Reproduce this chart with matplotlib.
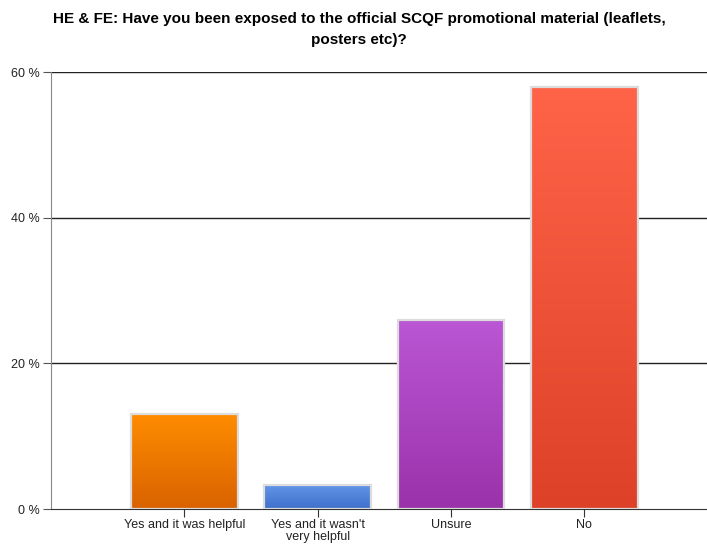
import numpy as np
import matplotlib.pyplot as plt
from matplotlib.colors import LinearSegmentedColormap

plt.rcParams['font.family'] = ['Liberation Sans', 'DejaVu Sans']

# Datos
categorias = ["Yes and it was helpful", "Yes and it wasn't\nvery helpful", "Unsure", "No"]
valores = [13, 3.3, 26, 58]
colores_arriba = ["#ff8c00", "#6396e8", "#bb56d4", "#ff6449"]
colores_abajo = ["#d96200", "#3f70cb", "#9a32aa", "#dd4228"]
titulo = "HE & FE: Have you been exposed to the official SCQF promotional material (leaflets,\nposters etc)?"

fig = plt.figure(figsize=(7.07, 5.44), dpi=100)
ax = fig.add_axes([0.0721, 0.0643, 0.9279, 0.8033])

x = np.arange(len(categorias))
barras = ax.bar(x, valores, width=0.8, color="none", edgecolor="#dcdcdc", linewidth=1.6, zorder=3)

# Relleno en degradado para cada barra
grad = np.linspace(0, 1, 256).reshape(-1, 1)
for b, c1, c2 in zip(barras, colores_arriba, colores_abajo):
    cmap = LinearSegmentedColormap.from_list("g", [c2, c1])
    x0, y0 = b.get_x(), b.get_y()
    w, h = b.get_width(), b.get_height()
    im = ax.imshow(grad, cmap=cmap, origin="lower", aspect="auto",
                   extent=[x0, x0 + w, y0, y0 + h], zorder=2)
    im.set_clip_path(b)

ax.set_xlim(-1, 3.92)
ax.set_ylim(0, 60)
ax.set_yticks([0, 20, 40, 60])
ax.set_yticklabels(["0 %", "20 %", "40 %", "60 %"])
ax.set_xticks(x)
ax.set_xticklabels(categorias)

for y in [20, 40, 60]:
    ax.axhline(y, color="#222222", linewidth=1.0, zorder=1)

for s in ["top", "right"]:
    ax.spines[s].set_visible(False)
ax.spines["left"].set_color("#888888")
ax.spines["bottom"].set_color("#333333")

ax.tick_params(axis="y", length=6, color="#555555", labelsize=9, labelcolor="#222222", pad=2)
ax.tick_params(axis="x", length=6, color="#333333", labelsize=9, labelcolor="#222222", pad=1.5)
for t in ax.get_xticklabels():
    t.set_linespacing(1.0)

fig.text(0.508, 0.978, titulo, ha="center", va="top", fontsize=11, fontweight="bold",
         linespacing=1.65)

fig.savefig("out.png", dpi=100)
